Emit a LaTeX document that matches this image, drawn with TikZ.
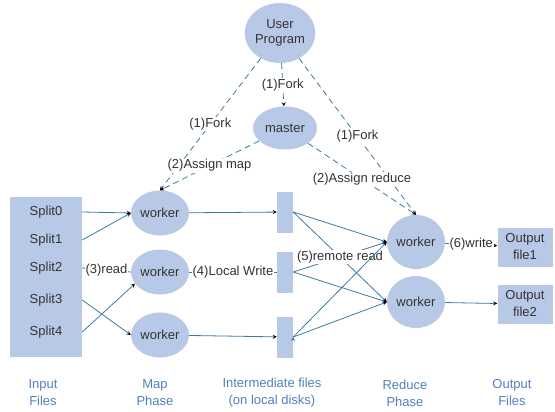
\documentclass[tikz,border=0pt]{standalone}
\usepackage{fontspec}
\setmainfont{Liberation Sans}
\usetikzlibrary{shapes.geometric, arrows}
\definecolor{boxblue}{RGB}{183,201,230}
\definecolor{linkblue}{RGB}{58,124,160}
\definecolor{capblue}{RGB}{79,129,189}
\definecolor{textgray}{RGB}{51,51,51}

\begin{document}
\begin{tikzpicture}[x=1pt,y=-1pt,->,>=stealth,font=\fontsize{13}{17}\selectfont,text=textgray,
    job/.style={ellipse, fill=boxblue, inner sep=0pt, minimum width=58pt, minimum height=45pt, align=center},
    disk/.style={rectangle, fill=boxblue, inner sep=0pt, minimum width=16pt, minimum height=41pt},
    outfile/.style={rectangle, fill=boxblue, inner sep=0pt, minimum width=55pt, minimum height=39pt, align=center},
    flow/.style={draw=linkblue, line width=0.8pt},
    ctrl/.style={draw=linkblue, line width=0.8pt, dash pattern=on 6pt off 4pt},
    lbl/.style={fill=white, inner sep=1pt, text=textgray},
    phase/.style={text=capblue, align=center}]
      \useasboundingbox (0,0) rectangle (555,412);

      % master side
      \node[job, minimum width=66pt, minimum height=60pt] (user) at (280,33) {User\\[-2pt]Program};
      \node[job, minimum width=64pt, minimum height=43pt] (master) at (285,128) {master};

      % input splits
      \node[rectangle, fill=boxblue, minimum width=72pt, minimum height=160pt, inner sep=0pt] (input) at (46,277) {};
      \node (s0) at (46,212) {Split0};
      \node (s1) at (46,240) {Split1};
      \node (s2) at (46,268) {Split2};
      \node (s3) at (46,300) {Split3};
      \node (s4) at (46,332) {Split4};

      % map workers
      \node[job] (w1) at (160,213) {worker};
      \node[job] (w2) at (160,272) {worker};
      \node[job] (w3) at (160,335) {worker};

      % intermediate files
      \node[disk] (d1) at (285,212) {};
      \node[disk] (d2) at (285,272) {};
      \node[disk] (d3) at (285,337) {};

      % reduce workers
      \node[job, minimum height=54pt] (w4) at (416,242) {worker};
      \node[job, minimum height=52pt] (w5) at (416,302) {worker};

      % output files
      \node[outfile] (f1) at (525,247) {Output\\file1};
      \node[outfile] (f2) at (525,304) {Output\\file2};

      \path[ctrl] (user) edge node[lbl] {(1)Fork} (master)
            (user) edge node[lbl, pos=0.5] {(1)Fork} (w1.north)
            (user) edge node[lbl, pos=0.5] {(1)Fork} (w4.north)
            (master) edge node[lbl] {(2)Assign map} (w1.north)
            (master) edge node[lbl] {(2)Assign reduce} (w4.north)
            ;

      \path[flow] (input.east |- s0) edge (w1.west)
            (input.east |- s1) edge (w1.west)
            (input.east |- s2) edge[-] node[lbl] {(3)read} (w2.west)
            (input.east |- s3) edge (w3.west)
            (input.east |- s4) edge (w2.205)
            (w1) edge (d1)
            (w2) edge[-] node[lbl] {(4)Local Write} (d2)
            (w3) edge (d3)
            (d1.east) edge (w4.west)
            (d1.east) edge (w5.west)
            (d2.east) edge node[lbl] {(5)remote read} (w4.west)
            (d2.east) edge (w5.west)
            (d3.east) edge (w4.west)
            (d3.east) edge (w5.west)
            (w4) edge node[lbl] {(6)write} (f1)
            (w5) edge (f2)
            ;

      % phase captions
      \node[phase] (capin) at (43,393) {Input\\Files};
      \node[phase] (capmap) at (155,393) {Map\\Phase};
      \node[phase] (capmid) at (272,393) {Intermediate files\\(on local disks)};
      \node[phase] (capred) at (405,393) {Reduce\\Phase};
      \node[phase] (capout) at (512,393) {Output\\Files};
\end{tikzpicture}
\end{document}
